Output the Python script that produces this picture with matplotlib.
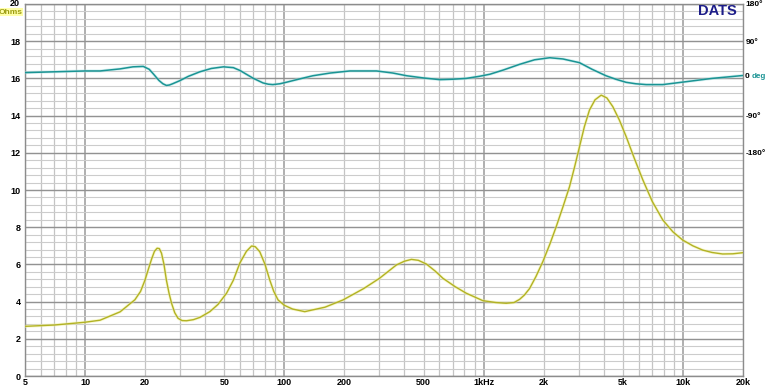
import numpy as np
import matplotlib
matplotlib.use('Agg')
import matplotlib.pyplot as plt
from matplotlib.ticker import FixedLocator, NullFormatter

# impedance magnitude (Ohms) vs frequency (Hz)
zFreq = [5, 7, 10, 11.9, 15, 17.8, 19, 20, 20.8, 21.6, 22.3, 23.0, 23.6, 24.2, 24.9,
         25.6, 26.4, 27.2, 28.2, 29.3, 30.7, 32.3, 35, 37.7, 42.3, 46.5, 51.3, 55.5,
         59.8, 64.5, 68.5, 71.5, 75.3, 80, 84.5, 88.5, 93, 100, 110, 126.6, 160, 197,
         250, 300, 365, 400, 434, 470, 516, 570, 625, 720, 818, 991, 1150, 1297, 1420,
         1514, 1600, 1699, 1830, 1981, 2150, 2312, 2500, 2696, 2860, 3026, 3200, 3395,
         3620, 3887, 4150, 4446, 4800, 5187, 5700, 6290, 7000, 7915, 8900, 9963,
         11200, 12550, 14000, 15800, 17800, 20000]
zOhms = [2.67, 2.74, 2.89, 3.0, 3.45, 4.1, 4.55, 5.16, 5.75, 6.3, 6.7, 6.87, 6.85, 6.6, 6.0,
         5.16, 4.45, 3.9, 3.4, 3.1, 2.98, 2.97, 3.03, 3.15, 3.46, 3.85, 4.45, 5.15,
         6.07, 6.7, 6.99, 6.95, 6.68, 6.0, 5.16, 4.55, 4.09, 3.8, 3.6, 3.46, 3.7, 4.09,
         4.7, 5.25, 5.97, 6.17, 6.27, 6.22, 6.02, 5.65, 5.25, 4.8, 4.45, 4.05, 3.95, 3.91, 3.95,
         4.12, 4.35, 4.7, 5.35, 6.15, 7.1, 8.03, 9.1, 10.18, 11.25, 12.33, 13.4, 14.3,
         14.85, 15.1, 14.95, 14.48, 13.75, 12.87, 11.7, 10.54, 9.4, 8.39, 7.75, 7.31,
         7.0, 6.77, 6.64, 6.56, 6.57, 6.63]

# impedance phase (degrees) vs frequency (Hz)
pFreq = [5, 10, 11.9, 15, 17.4, 19.6, 21, 22.1, 23.5, 24.6, 25.6, 26.5, 27.5, 29.9, 33, 37.7,
         43, 49.5, 55.5, 60, 64.5, 70, 78.2, 83, 87.5, 95, 102, 120, 139, 170, 213,
         290, 350, 411, 500, 602, 700, 818, 950, 1073, 1250, 1514, 1800, 2145,
         2500, 3026, 3500, 4110, 4600, 5187, 5800, 6530, 7915, 10350, 14000, 20000]
pDeg = [14, 18, 18, 23, 28, 29, 22, 10, -5, -13, -17, -16, -13, -5.5, 5, 16,
        24, 28, 26, 19, 10, 0, -11, -14, -15, -13, -9.5, -1, 6.4, 13, 18,
        18, 13, 6.4, 1, -3, -2, 0, 5, 10, 20, 34, 45, 50,
        47, 38, 22, 6.4, -2, -9.5, -13, -15, -15, -8, 0, 7]

xTicks = [5, 10, 20, 50, 100, 200, 500, 1000, 2000, 5000, 10000, 20000]
xTickLabels = ['5', '10', '20', '50', '100', '200', '500', '1kHz', '2k', '5k', '10k', '20k']
yTicks = [0, 2, 4, 6, 8, 10, 12, 14, 16, 18, 20]
phTicks = [180, 90, -90, -180]
phTickLabels = ['180\u00b0', '90\u00b0', '-90\u00b0', '-180\u00b0']

#===============================================================================
plt.rcParams['font.family'] = ['Liberation Sans', 'DejaVu Sans']
W, H = 768, 387
fig = plt.figure(figsize=(W/100, H/100), dpi=100)
fig.patch.set_facecolor('white')
ax = fig.add_axes([25/W, 11/H, 718/W, 372/H])

ax.set_xscale('log')
ax.set_xlim(5, 20000)
ax.set_ylim(0, 20)

# grid lines
minorX = []
for dec in [1, 10, 100, 1000, 10000]:
    for m in range(1, 10):
        f = m*dec
        if 5 <= f <= 20000 and f not in (10, 100, 1000, 10000):
            minorX.append(f)
for f in minorX:
    ax.axvline(f, color='#c4c4c4', lw=0.9, zorder=0)
for f in [10, 100, 1000, 10000]:
    ax.axvline(f, color='#9a9a9a', lw=1.1, zorder=0)
for yv in np.arange(0, 20.01, 0.4):
    ax.axhline(yv, color='#cccccc', lw=0.8, zorder=0)
for yv in yTicks:
    ax.axhline(yv, color='#929292', lw=1.0, zorder=0)

ax.xaxis.set_major_locator(FixedLocator(xTicks))
ax.xaxis.set_minor_formatter(NullFormatter())
ax.set_xticklabels(xTickLabels)
ax.set_yticks(yTicks)
ax.set_yticklabels(['' if v == 20 else str(v) for v in yTicks])
ax.tick_params(axis='both', which='both', length=0, labelsize=6.5)
ax.tick_params(axis='x', pad=1.5)
ax.tick_params(axis='y', pad=3)
for lab in ax.get_xticklabels() + ax.get_yticklabels():
    lab.set_fontweight('bold')
for s in ax.spines.values():
    s.set_color('#8c8c8c')
    s.set_linewidth(1.0)

# phase on right axis: 0 deg sits at 16 Ohm, 90 deg per 2 Ohm
ax2 = ax.twinx()
ax2.set_ylim(-720, 180)
ax2.set_yticks(phTicks)
ax2.set_yticklabels(phTickLabels)
ax2.tick_params(axis='y', length=0, labelsize=6, pad=2)
for lab in ax2.get_yticklabels():
    lab.set_fontweight('bold')
for s in ax2.spines.values():
    s.set_visible(False)

ax.plot(zFreq, zOhms, color='#f2f2a0', lw=2.2, alpha=0.5, zorder=3, solid_joinstyle='round')
ax.plot(zFreq, zOhms, color='#b2b224', lw=1.0, zorder=4, solid_joinstyle='round')
ax2.plot(pFreq, pDeg, color='#b0e4e4', lw=2.2, alpha=0.5, zorder=3, solid_joinstyle='round')
ax2.plot(pFreq, pDeg, color='#1a9494', lw=1.1, zorder=4, solid_joinstyle='round')

# labels
fig.text(15/W, 1-4/H, '20', fontsize=6.5, fontweight='bold', ha='center', va='center')
fig.text(11/W, 1-12/H, 'Ohms', fontsize=6, fontweight='bold', color='#9c9c10', ha='center', va='center',
         bbox=dict(boxstyle='square,pad=0.05', fc='#ffffa8', ec='none'))
fig.text(745/W, 1-76/H, '0', fontsize=6, fontweight='bold', ha='left', va='center')
fig.text(766/W, 1-76/H, 'deg', fontsize=5.8, fontweight='bold', color='#1a9494', ha='right', va='center')
fig.text(737/W, 1-11/H, 'DATS', fontsize=10.5, fontweight='bold', color='#1c1c88', ha='right', va='center')

fig.savefig('out.png', dpi=100)
plt.close(fig)
